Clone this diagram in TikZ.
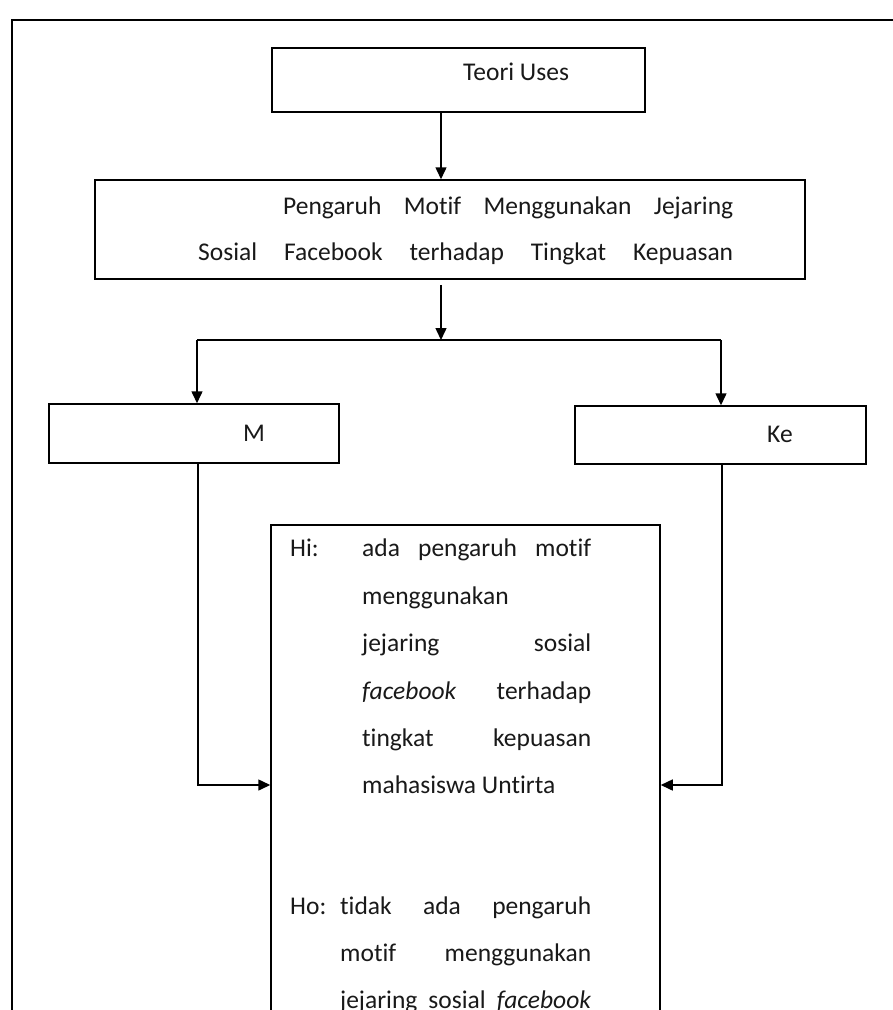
\documentclass[tikz,border=0pt]{standalone}
\usepackage{fontspec}
\setmainfont[Ligatures=NoCommon]{Carlito}
\usetikzlibrary{arrows.meta,calc}
\begin{document}
\begin{tikzpicture}[x=1pt,y=-1pt,
  box/.style={draw, line width=1.5pt, inner sep=0pt, rectangle},
  txt/.style={anchor=base west, inner sep=0pt, font=\fontsize{25.5}{30}\selectfont, text=black!90},
  arr/.style={line width=1.5pt, -{Triangle[length=12pt,width=11pt]}},
  ln/.style={line width=1.5pt}]
\useasboundingbox (0,0) rectangle (893,1010);
\clip (0,0) rectangle (893,1010);
% outer frame (continues beyond the picture)
\draw[ln] (900,20) -- (12,20) -- (12,1030);
% boxes
\node[box, minimum width=373pt, minimum height=64pt] (teori) at (458.5,80) {};
\node[box, minimum width=710pt, minimum height=99pt] (box2) at (450,229.5) {};
\node[box, minimum width=290pt, minimum height=59pt] (boxM) at (194,433.5) {};
\node[box, minimum width=291pt, minimum height=58pt] (boxKe) at (720.5,435) {};
\node[box, minimum width=389pt, minimum height=515pt] (big) at (465.5,782.5) {};
% texts
\node[txt] (tTeori) at (463,80) {Teori Uses};
\node[txt] (t21) at (283,214) {\makebox[450pt][s]{Pengaruh Motif Menggunakan Jejaring}};
\node[txt] (t22) at (198,260) {\makebox[535pt][s]{Sosial Facebook terhadap Tingkat Kepuasan}};
\node[txt] (tM) at (243,441) {M};
\node[txt] (tKe) at (767,442) {Ke};
\node[txt] (hi) at (290,556) {Hi:};
\node[txt] (h1) at (362,556) {\makebox[229pt][s]{ada pengaruh motif}};
\node[txt] (h2) at (362,604) {menggunakan};
\node[txt] (h3) at (362,651) {\makebox[229pt][s]{jejaring sosial}};
\node[txt] (h4) at (362,699) {\makebox[229pt][s]{\textit{facebook} terhadap}};
\node[txt] (h5) at (362,746) {\makebox[229pt][s]{tingkat kepuasan}};
\node[txt] (h6) at (362,793) {mahasiswa Untirta};
\node[txt] (ho) at (290,914) {Ho:};
\node[txt] (o1) at (340,914) {\makebox[251pt][s]{tidak ada pengaruh}};
\node[txt] (o2) at (340,961) {\makebox[251pt][s]{motif menggunakan}};
\node[txt] (o3) at (340,1008) {\makebox[251pt][s]{jejaring sosial \textit{facebook}}};
% connectors
\coordinate (c1) at (441,0);
\draw[arr] (teori.south -| c1) -- (box2.north -| c1);
\coordinate (split) at (441,340);
\draw[arr] ($(box2.south -| c1)+(0,5)$) -- (split);
\coordinate (sl) at (197,340);
\coordinate (sr) at (721,340);
\draw[ln] (sl) -- (sr);
\draw[arr] (sl) -- (boxM.north -| sl);
\draw[arr] (sr) -- (boxKe.north -| sr);
\coordinate (jl) at (198,785);
\coordinate (jr) at (722,785);
\draw[arr] (boxM.south -| jl) -- (jl) -- (big.west |- jl);
\draw[arr] (boxKe.south -| jr) -- (jr) -- (big.east |- jr);
\end{tikzpicture}
\end{document}
